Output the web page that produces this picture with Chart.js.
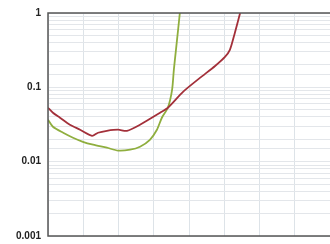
<!DOCTYPE html>
<html><head><meta charset="utf-8">
<script src="https://cdn.jsdelivr.net/npm/chart.js@4"></script>
<style>html,body{margin:0;padding:0;background:#fff}#w{width:330px;height:244px}</style>
</head><body><div id="w"><canvas id="c"></canvas></div>
<script>
const yTickLabels = [1, 0.1, 0.01, 0.001];
const redX = [0, 0.14, 0.34, 0.62, 0.91, 1.25, 1.42, 1.67, 1.99, 2.24, 2.61, 3.18, 3.40, 3.83, 4.31, 4.74, 5.02, 5.16, 5.30, 5.45];
const redY = [0.053, 0.0455, 0.039, 0.0314, 0.0269, 0.0223, 0.0245, 0.026, 0.0269, 0.026, 0.0314, 0.0455, 0.0531, 0.087, 0.134, 0.194, 0.257, 0.319, 0.539, 1];
const greenX = [0, 0.14, 0.43, 0.71, 0.99, 1.28, 1.67, 1.99, 2.33, 2.61, 2.89, 3.09, 3.23, 3.40, 3.52, 3.57, 3.63, 3.69, 3.74];
const greenY = [0.0366, 0.0295, 0.0245, 0.021, 0.0185, 0.0169, 0.0154, 0.0141, 0.0145, 0.0159, 0.0197, 0.0269, 0.039, 0.0531, 0.0925, 0.172, 0.319, 0.591, 1];

const pts = (xs, ys) => xs.map((x, i) => ({x, y: ys[i]}));

const frame = {
  id: 'frame',
  afterDraw(chart) {
    const {ctx, chartArea: a} = chart;
    ctx.save();
    ctx.strokeStyle = '#555';
    ctx.lineWidth = 1.5;
    ctx.beginPath();
    ctx.moveTo(a.right, a.top);
    ctx.lineTo(a.left, a.top);
    ctx.lineTo(a.left, a.bottom);
    ctx.lineTo(a.right, a.bottom);
    ctx.stroke();
    ctx.restore();
  }
};

new Chart(document.getElementById('c'), {
  type: 'line',
  data: {
    datasets: [
      {data: pts(redX, redY), borderColor: '#a3303a', borderWidth: 1.8, pointRadius: 0, tension: 0.25},
      {data: pts(greenX, greenY), borderColor: '#8fae3e', borderWidth: 1.8, pointRadius: 0, tension: 0.25}
    ]
  },
  plugins: [frame],
  options: {
    responsive: true, maintainAspectRatio: false, animation: false,
    layout: {padding: {top: 13, right: 0, bottom: 8, left: 0}},
    plugins: {legend: {display: false}, tooltip: {enabled: false}},
    scales: {
      x: {
        type: 'linear', min: 0, max: 8,
        afterFit(s) { s.height = 0; s.paddingLeft = 0; s.paddingRight = 0; },
        ticks: {display: false, stepSize: 1},
        grid: {color: '#dde3e8', lineWidth: 1, drawTicks: false},
        border: {display: false}
      },
      y: {
        type: 'logarithmic', min: 0.001, max: 1,
        afterFit(s) { s.width = 48; s.paddingTop = 0; s.paddingBottom = 0; },
        ticks: {
          padding: 7,
          color: '#222',
          font: {family: 'Liberation Sans', size: 10, weight: 'bold'},
          autoSkip: false,
          callback: (v) => yTickLabels.find(t => Math.abs(t - v) / t < 1e-6) !== undefined ? String(v) : ''
        },
        grid: {color: '#e3e6ea', lineWidth: 1, drawTicks: false},
        border: {display: false}
      }
    }
  }
});
</script>
</body></html>
